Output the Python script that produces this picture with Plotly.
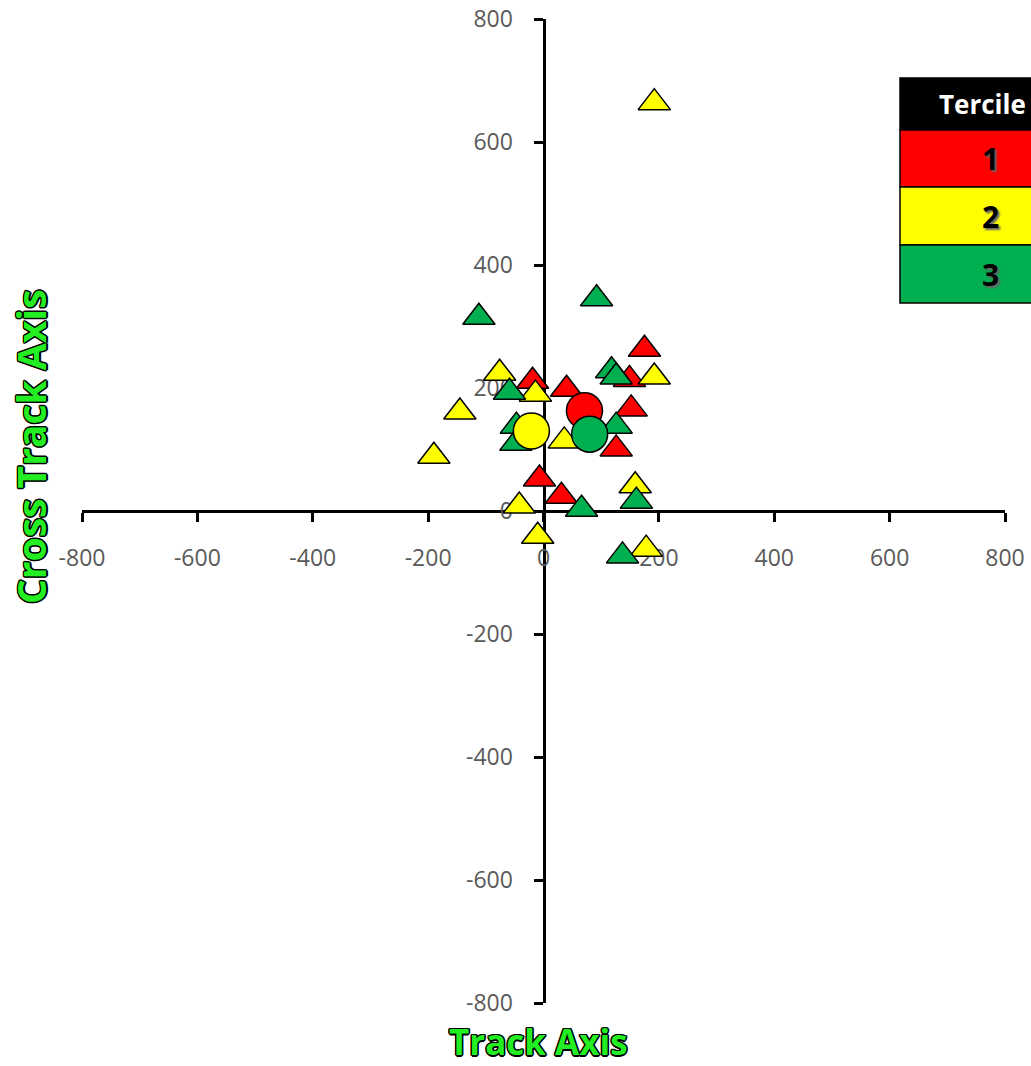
import plotly.graph_objects as go

# Tercile 1 (red), 2 (yellow), 3 (green) triangle points
red_x = [-19, 40, 126, 152, 175, 149, -7, 31]
red_y = [211, 198, 101, 166, 263, 214, 52, 24]
yellow_x = [192, -76, -145, -190, -14, 36, 192, -42, 159, -10, 178]
yellow_y = [664, 224, 161, 89, 190, 114, 218, 8, 41, -41, -62]
green_x = [-112, 92, -59, -47, -48, 126, 118, 126, 66, 161, 137]
green_y = [315, 345, 193, 138, 110, 138, 228, 218, 3, 16, -73]

# Tercile means (circles)
mean_x = [71, -21, 80]
mean_y = [163, 130, 125]
mean_colors = ["#FF0000", "#FFFF00", "#00B050"]

ticks = [-800, -600, -400, -200, 0, 200, 400, 600, 800]
tick_text = ["-800", "-600", "-400", "-200", "0", "200", "400", "600", "800"]
tercile_labels = ["1", "2", "3"]
tercile_colors = ["#FF0000", "#FFFF00", "#00B050"]

fig = go.Figure()
tri_line = dict(color="black", width=1.5)
for xs, ys, c in [(red_x, red_y, "#FF0000"), (yellow_x, yellow_y, "#FFFF00"), (green_x, green_y, "#00B050")]:
    fig.add_trace(go.Scatter(x=xs, y=ys, mode="markers",
                             marker=dict(symbol="triangle-up", size=28, color=c, line=tri_line),
                             showlegend=False, cliponaxis=False))
for mx, my, c in zip(mean_x, mean_y, mean_colors):
    fig.add_trace(go.Scatter(x=[mx], y=[my], mode="markers",
                             marker=dict(symbol="circle", size=36, color=c, line=tri_line),
                             showlegend=False, cliponaxis=False))

tickfont = dict(family="Open Sans, sans-serif", size=23, color="#5a5a5a")
axis_common = dict(range=[-800, 800], tickvals=ticks, ticktext=tick_text, anchor="free", position=0.5,
                   showline=True, linecolor="black", linewidth=3, showgrid=False, zeroline=False,
                   ticks="outside", ticklen=9, tickwidth=3, tickcolor="black", automargin=False,
                   tickfont=tickfont, ticklabelstandoff=16, layer="below traces")
fig.update_layout(
    width=1031, height=1066,
    margin=dict(l=82, r=26, t=19, b=63, autoexpand=False),
    paper_bgcolor="white", plot_bgcolor="white",
    xaxis=dict(**axis_common),
    yaxis=dict(**axis_common),
)

outline = ("1.5px 0 0 black, -1.5px 0 0 black, 0 1.5px 0 black, 0 -1.5px 0 black, "
           "1px 1px 0 black, -1px -1px 0 black, 1px -1px 0 black, -1px 1px 0 black")
title_font = dict(family="Open Sans, sans-serif", size=35, color="#22EE22", weight="bold", shadow=outline)

def px_x(p):
    return (p - 82) / 923
def px_y(p):
    return (1003 - p) / 984

fig.add_annotation(text="Track Axis", xref="paper", yref="paper", x=px_x(538), y=px_y(1041.5),
                   xanchor="center", yanchor="middle", showarrow=False, font=title_font)
fig.add_annotation(text="Cross Track Axis", xref="paper", yref="paper", x=px_x(30), y=px_y(447),
                   xanchor="center", yanchor="middle", showarrow=False, textangle=-90,
                   font=dict(title_font, size=39))

# Tercile table (top right)
x0, x1 = px_x(900), px_x(1080)
rows = [78, 130, 187, 245, 303]
fig.add_shape(type="rect", xref="paper", yref="paper", x0=x0, x1=x1, y0=px_y(rows[1]), y1=px_y(rows[0]),
              fillcolor="black", line=dict(color="black", width=1.5), layer="above")
fig.add_annotation(text="Tercile", xref="paper", yref="paper", x=px_x(982), y=px_y((rows[0] + rows[1]) / 2),
                   xanchor="center", yanchor="middle", showarrow=False,
                   font=dict(family="Open Sans, sans-serif", size=26, color="white", weight="bold"))
for i, (lab, col) in enumerate(zip(tercile_labels, tercile_colors)):
    top, bot = rows[i + 1], rows[i + 2]
    fig.add_shape(type="rect", xref="paper", yref="paper", x0=x0, x1=x1, y0=px_y(bot), y1=px_y(top),
                  fillcolor=col, line=dict(color="black", width=1.5), layer="above")
    fig.add_annotation(text=lab, xref="paper", yref="paper", x=px_x(990), y=px_y((top + bot) / 2),
                       xanchor="center", yanchor="middle", showarrow=False,
                       font=dict(family="Open Sans, sans-serif", size=30, color="black", weight="bold",
                                 shadow="2px 2px 2px #666"))

fig.write_html("out.html")
